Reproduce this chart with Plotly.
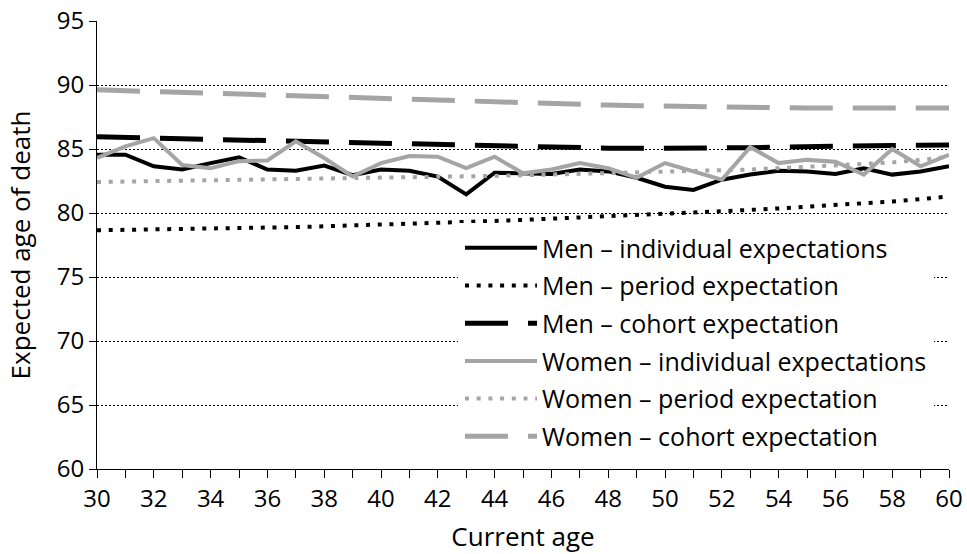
import plotly.graph_objects as go

ages = list(range(30, 61))

men_individual = [84.55, 84.55, 83.65, 83.4, 83.9, 84.35, 83.4, 83.3, 83.7, 82.95,
                  83.4, 83.3, 82.85, 81.45, 83.15, 83.1, 83.05, 83.4, 83.25, 82.75,
                  82.05, 81.8, 82.6, 83.0, 83.3, 83.25, 83.05, 83.5, 83.0, 83.25, 83.65]
men_period = [78.65, 78.68, 78.7, 78.74, 78.78, 78.82, 78.86, 78.9, 78.96, 79.02,
              79.08, 79.15, 79.22, 79.3, 79.38, 79.46, 79.55, 79.64, 79.73, 79.82,
              79.92, 80.02, 80.12, 80.24, 80.36, 80.48, 80.62, 80.76, 80.9, 81.08, 81.3]
men_cohort = [85.95, 85.9, 85.85, 85.8, 85.75, 85.7, 85.65, 85.6, 85.52, 85.46,
              85.4, 85.35, 85.3, 85.25, 85.2, 85.15, 85.1, 85.08, 85.06, 85.05,
              85.05, 85.05, 85.08, 85.1, 85.15, 85.2, 85.22, 85.25, 85.28, 85.3, 85.32]
women_individual = [84.3, 85.2, 85.85, 83.75, 83.5, 84.05, 84.1, 85.6, 84.3, 82.85,
                    83.9, 84.45, 84.4, 83.5, 84.4, 83.1, 83.4, 83.9, 83.5, 82.75,
                    83.9, 83.25, 82.6, 85.15, 83.9, 84.15, 84.0, 83.0, 85.0, 83.65, 84.55]
women_period = [82.42, 82.45, 82.48, 82.51, 82.54, 82.57, 82.6, 82.63, 82.66, 82.7,
                82.74, 82.78, 82.82, 82.86, 82.9, 82.95, 83.0, 83.05, 83.1, 83.15,
                83.2, 83.26, 83.32, 83.4, 83.5, 83.6, 83.7, 83.82, 83.95, 84.15, 84.4]
women_cohort = [89.62, 89.55, 89.48, 89.4, 89.33, 89.26, 89.19, 89.12, 89.05, 88.98,
                88.9, 88.84, 88.78, 88.72, 88.66, 88.6, 88.54, 88.48, 88.43, 88.38,
                88.34, 88.3, 88.27, 88.24, 88.22, 88.2, 88.2, 88.2, 88.2, 88.2, 88.2]

x_tick_vals = list(range(30, 61))
x_tick_text = [str(a) if a % 2 == 0 else "" for a in x_tick_vals]
y_tick_vals = [60, 65, 70, 75, 80, 85, 90, 95]

BLACK = "#000000"
GREY = "#a5a5a5"

series = [
    ("Men – individual expectations", men_individual, BLACK, "solid", 4),
    ("Men – period expectation", men_period, BLACK, "4px,7.7px", 4),
    ("Men – cohort expectation", men_cohort, BLACK, "43px,20px", 5),
    ("Women – individual expectations", women_individual, GREY, "solid", 4),
    ("Women – period expectation", women_period, GREY, "4px,7.7px", 4),
    ("Women – cohort expectation", women_cohort, GREY, "43px,20px", 5),
]

fig = go.Figure()
for i, (name, vals, color, dash, width) in enumerate(series):
    fig.add_trace(go.Scatter(x=ages, y=vals, mode="lines", name=name,
                             legendgroup=f"g{i}",
                             line=dict(color=color, dash=dash, width=width)))

FONT = "Open Sans"
FS = 24
TFS = 26
fig.update_layout(
    width=967, height=554,
    paper_bgcolor="white", plot_bgcolor="white",
    margin=dict(l=97, r=18, t=21, b=85),
    font=dict(family=FONT, size=FS, color="black"),
    showlegend=True,
    legend=dict(x=0.4237, y=0.549, xanchor="left", yanchor="top",
                bgcolor="white", bordercolor="white", borderwidth=2, itemwidth=72,
                entrywidth=480, entrywidthmode="pixels",
                font=dict(family=FONT, size=25, color="black"),
                tracegroupgap=2.2),
    xaxis=dict(range=[30, 60], tickvals=x_tick_vals, ticktext=x_tick_text,
               showline=True, linecolor="black", linewidth=1,
               ticks="outside", ticklen=8, tickcolor="black",
               showgrid=False, zeroline=False, automargin=False,
               title=dict(text="Current age", font=dict(size=TFS), standoff=16),
               tickfont=dict(size=FS)),
    yaxis=dict(range=[60, 95], tickvals=y_tick_vals,
               showline=True, linecolor="black", linewidth=1,
               ticks="outside", ticklen=7, tickcolor="black",
               showgrid=True, gridcolor="black", gridwidth=1, griddash="2px,2px",
               zeroline=False, automargin=False,
               title=dict(text="Expected age of death", font=dict(size=TFS), standoff=18),
               tickfont=dict(size=FS)),
)

fig.write_html("out.html", config={"displayModeBar": False},
               post_script="document.body.style.margin='0';")
